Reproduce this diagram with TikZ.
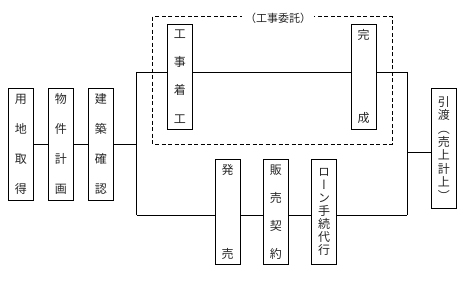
\documentclass[tikz,border=0pt]{standalone}
\usepackage{fontspec}
\newfontfamily\cjk{Noto Sans CJK JP}
\newfontfamily\cjkv[RawFeature=+vert]{Noto Sans CJK JP}
\tikzset{
  vbox/.style={draw, line width=0.9pt, minimum width=25pt, inner sep=0pt, align=center, text=black!85},
  sp/.style={font=\cjkv\fontsize{12}{#1}\selectfont},
  conn/.style={line width=0.9pt},
  frame/.style={dashed, dash pattern=on 4pt off 2.5pt, line width=0.9pt},
}
\begin{document}
\begin{tikzpicture}[x=1pt,y=-1pt]
\useasboundingbox (0,0) rectangle (473,288);
% dashed frame
\draw[frame] (152.7,16.7) rectangle (392.3,144.3);
\node[fill=white, inner xsep=3pt, inner ysep=1pt, text=black!85, font=\cjk\fontsize{11}{11}\selectfont] (lab) at (278,18) {（工事委託）};
% boxes
\node[vbox, sp=30, minimum height=112pt] (n1) at (20.8,144.2) {用\\地\\取\\得};
\node[vbox, sp=30, minimum height=112pt] (n2) at (60.8,144.2) {物\\件\\計\\画};
\node[vbox, sp=30, minimum height=112pt] (n3) at (100.8,144.2) {建\\築\\確\\認};
\node[vbox, sp=28.3, minimum height=105pt] (kj) at (179.8,76.5) {工\\事\\着\\工};
\node[vbox, sp=83.3, minimum height=105pt] (ks) at (363.5,76.5) {完\\成};
\node[vbox, sp=84, minimum height=105pt] (hb) at (227.7,211.7) {発\\売};
\node[vbox, sp=28, minimum height=105pt] (hk) at (275.8,211.7) {販\\売\\契\\約};
\node[vbox, sp=13, minimum height=105pt] (ln) at (324.2,211.7) {ロ\\ー\\ン\\手\\続\\代\\行};
\node[vbox, sp=13.4, minimum height=120pt] (hw) at (443.8,148.3) {引\\渡\\（\\売\\上\\計\\上\\）};
% junctions
\coordinate (jm) at (136.7,144.2);
\coordinate (jt) at (136.7,72);
\coordinate (jb) at (136.7,215);
\coordinate (rt) at (407.3,72);
\coordinate (rb) at (407.3,215);
\coordinate (rm) at (407.3,152);
% connectors
\draw[conn] (n1.east) -- (n2.west);
\draw[conn] (n2.east) -- (n3.west);
\draw[conn] (n3.east) -- (jm);
\draw[conn] (jt) -- (jb);
\draw[conn] (jt) -- (jt -| kj.west);
\draw[conn] (jt -| kj.east) -- (jt -| ks.west);
\draw[conn] (jt -| ks.east) -- (rt);
\draw[conn] (jb) -- (jb -| hb.west);
\draw[conn] (jb -| hb.east) -- (jb -| hk.west);
\draw[conn] (jb -| hk.east) -- (jb -| ln.west);
\draw[conn] (jb -| ln.east) -- (rb);
\draw[conn] (rt) -- (rb);
\draw[conn] (rm) -- (rm -| hw.west);
\end{tikzpicture}
\end{document}
